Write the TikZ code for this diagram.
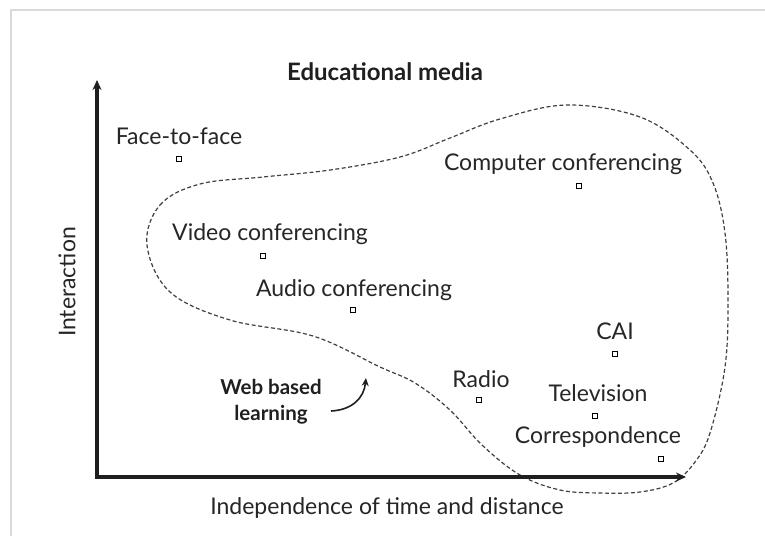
\documentclass[tikz,border=0pt]{standalone}
\usepackage{fontspec}
\setmainfont{Lato}
\usetikzlibrary{arrows.meta}
\tikzset{
  lbl/.style={font=\fontsize{23}{26}\selectfont, text=black!85, inner sep=0pt},
  bold lbl/.style={font=\bfseries\fontsize{20.5}{26}\selectfont, text=black!88, inner sep=0pt, align=center},
  mk/.style={draw=black, rectangle, minimum size=4.5pt, inner sep=0pt, line width=0.8pt, fill=white},
  axis/.style={line width=3.4pt, draw=black!88, line join=miter},
  blob/.style={dashed, dash pattern=on 4pt off 2.5pt, line width=1.2pt, draw=black!75},
  frame/.style={draw=black!15, line width=1.5pt}
}
\begin{document}
\begin{tikzpicture}[x=1pt,y=-1pt]
\useasboundingbox (0,0) rectangle (765,536);
\fill[white] (0,0) rectangle (765,536);
% frame
\coordinate (f1) at (11,536);
\coordinate (f2) at (11,10);
\coordinate (f3) at (765,10);
\draw[frame] (f1) -- (f2) -- (f3);
% blob
\draw[blob] plot[smooth cycle, tension=0.6] coordinates {
 (147,245) (160,205) (200,184) (263,177) (330,170) (400,157) (450,138)
 (500,119) (567,105) (640,117) (690,150) (713,183) (725,233) (728,300)
 (725,367) (710,433) (695,462) (673,483) (640,492) (600,493) (560,490) (520,475) (482,445)
 (450,410) (415,383) (380,367) (313,336) (230,320) (170,292)};
% axes
\coordinate (O) at (97,477);
\coordinate (Ytip) at (97,80);
\coordinate (Xtip) at (686,477);
\draw[axis, {Stealth[length=10pt,width=9pt]}-{Stealth[length=10pt,width=9pt]}] (Ytip) -- (O) -- (Xtip);
% title and axis labels
\node[font=\bfseries\fontsize{24}{28}\selectfont, text=black!88, inner sep=0pt] (title) at (385,72) {Educational media};
\node[lbl, rotate=90] (ylab) at (67,282) {Interaction};
\node[lbl] (xlab) at (387,508) {Independence of time and distance};
% media
\node[lbl] (ftf) at (179,136) {Face-to-face};
\node[mk] (ftfm) at (179,159) {};
\node[lbl] (vc) at (270,234) {Video conferencing};
\node[mk] (vcm) at (263,256) {};
\node[lbl] (ac) at (354,290) {Audio conferencing};
\node[mk] (acm) at (353,310) {};
\node[lbl] (cc) at (563,164) {Computer conferencing};
\node[mk] (ccm) at (579,186) {};
\node[lbl] (cai) at (615,331) {CAI};
\node[mk] (caim) at (615,354) {};
\node[lbl] (rad) at (481,379) {Radio};
\node[mk] (radm) at (479,400) {};
\node[lbl] (tv) at (598,393) {Television};
\node[mk] (tvm) at (595,416) {};
\node[lbl] (cor) at (598,437) {Correspondence};
\node[mk] (corm) at (661,459) {};
% web based learning
\node[bold lbl] (wbl) at (271,402) {Web based\\learning};
\coordinate (wstart) at (331,411);
\coordinate (wtip) at (366,378);
\draw[line width=1.6pt, draw=black!88, -{Stealth[length=8pt,width=7pt]}] (wstart)
  .. controls (352,410) and (364,398) .. (wtip);
\end{tikzpicture}
\end{document}
